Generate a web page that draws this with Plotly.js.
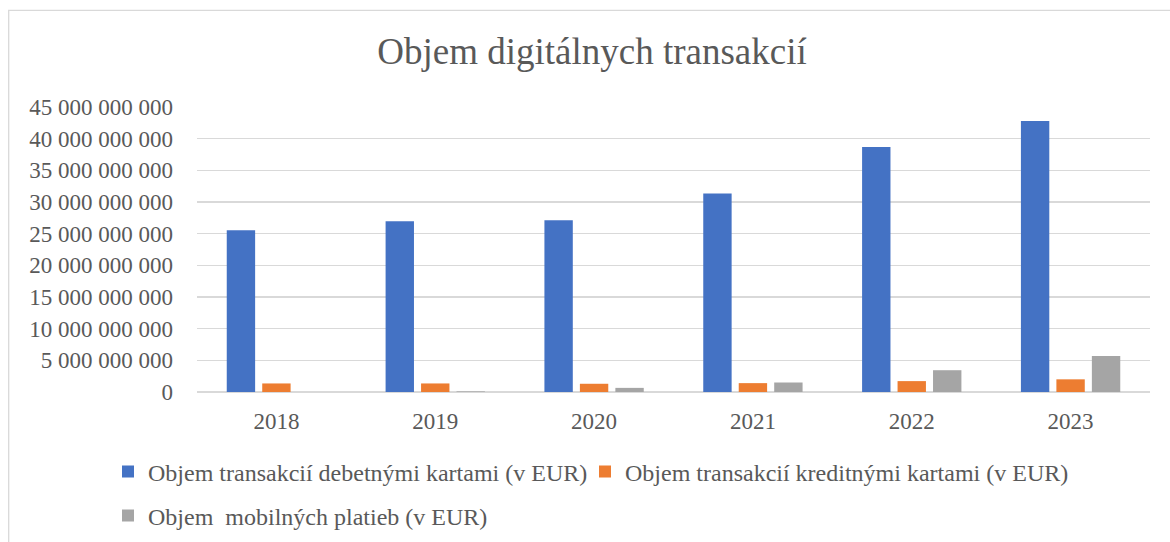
<!DOCTYPE html>
<html>
<head>
<meta charset="utf-8">
<script src="https://cdn.plot.ly/plotly-3.0.1.min.js"></script>
<style>html,body{margin:0;padding:0;background:#fff;}#chart{width:1170px;height:542px;}</style>
</head>
<body>
<div id="chart"></div>
<script>
const years = ["2018", "2019", "2020", "2021", "2022", "2023"];
const debetne = [25.55e9, 26.95e9, 27.1e9, 31.35e9, 38.7e9, 42.8e9];
const kreditne = [1.35e9, 1.35e9, 1.3e9, 1.4e9, 1.72e9, 2.0e9];
const mobilne = [0, 0.1e9, 0.65e9, 1.5e9, 3.44e9, 5.7e9];
const seriesNames = [
  "Objem transakcií debetnými kartami (v EUR)",
  "Objem transakcií kreditnými kartami (v EUR)",
  "Objem  mobilných platieb (v EUR)"
];
const titleText = "Objem digitálnych transakcií";

const W = 1170, H = 542;
const L = 196.5, R = 19.5, T = 106.7, B = 150.3;
const pw = W - L - R, ph = H - T - B;
const font = "Liberation Serif, Times New Roman, serif";
const txt = "#595959";

const traces = [
  {type: "bar", x: years, y: debetne, name: seriesNames[0], marker: {color: "#4472C4"}, legend: "legend", showlegend: true},
  {type: "bar", x: years, y: kreditne, name: seriesNames[1], marker: {color: "#ED7D31"}, legend: "legend2", showlegend: true},
  {type: "bar", x: years, y: mobilne, name: seriesNames[2], marker: {color: "#A5A5A5"}, legend: "legend3", showlegend: true}
];

const legendCommon = {
  orientation: "h", xref: "container", yref: "container", xanchor: "left", yanchor: "middle",
  font: {family: font, size: 24, color: txt}, bgcolor: "rgba(0,0,0,0)", visible: true
};

const layout = {
  width: W, height: H,
  showlegend: true,
  margin: {l: L, r: R, t: T, b: B},
  paper_bgcolor: "#fff", plot_bgcolor: "#fff",
  font: {family: font, color: txt},
  separators: ". ",
  title: {text: titleText, font: {family: font, size: 37, color: txt}, x: 592/W, xanchor: "center", xref: "container", y: 1 - 51/H, yanchor: "middle", yref: "container"},
  barmode: "group", bargap: 0.33, bargroupgap: 0.2,
  xaxis: {type: "category", showgrid: false, showline: false, ticks: "", tickfont: {family: font, size: 23, color: txt}, ticklabelstandoff: 13},
  yaxis: {range: [0, 45e9], tickvals: [0,5e9,10e9,15e9,20e9,25e9,30e9,35e9,40e9,45e9], tickformat: ",d", showgrid: true, gridcolor: "#d9d9d9", gridwidth: 1.3, zeroline: true, zerolinecolor: "#d9d9d9", zerolinewidth: 1.3, showline: false, ticks: "", tickfont: {family: font, size: 23, color: txt}, ticklabelstandoff: 23},
  legend: Object.assign({}, legendCommon, {x: 108/W, y: 1 - 472/H}),
  legend2: Object.assign({}, legendCommon, {x: 585/W, y: 1 - 472/H}),
  legend3: Object.assign({}, legendCommon, {x: 108/W, y: 1 - 516/H}),
  shapes: [{type: "rect", xref: "paper", yref: "paper", x0: (8 - L)/pw, x1: (W + 10 - L)/pw, y0: -(H + 10 - (H - B))/ph, y1: (H - B - 10)/ph, line: {color: "#d9d9d9", width: 1.3}, fillcolor: "rgba(0,0,0,0)", layer: "below"}]
};

Plotly.newPlot("chart", traces, layout, {displayModeBar: false, staticPlot: true});
</script>
</body>
</html>
